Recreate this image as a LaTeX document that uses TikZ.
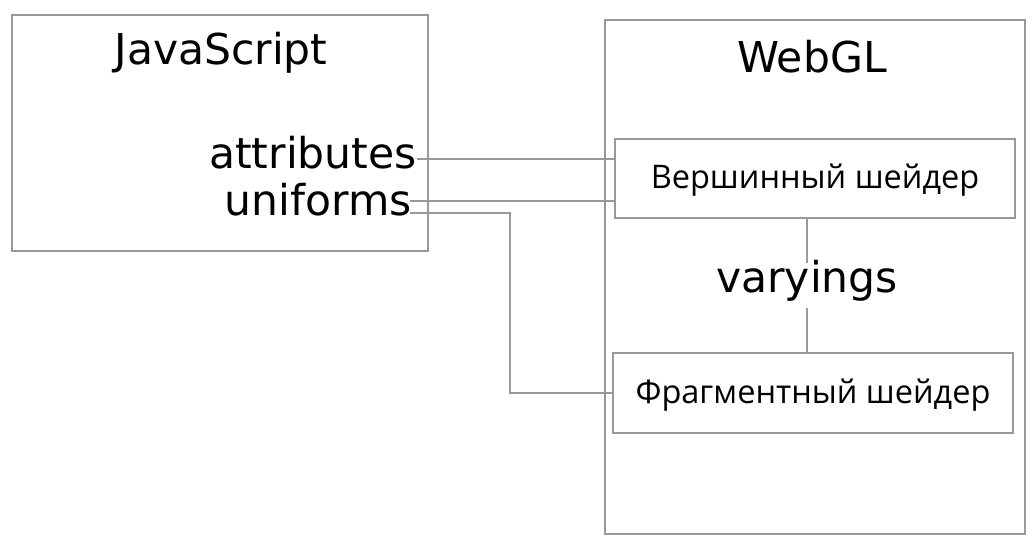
\documentclass[tikz,border=0pt]{standalone}
\usepackage{fontspec}
\setmainfont{DejaVu Sans}
\newfontfamily\rufont{Open Sans}
\tikzset{
  frame/.style={draw=black!40, line width=2pt, anchor=north west, inner sep=0pt},
  lat/.style={inner sep=0pt, font=\fontsize{42.5}{50}\selectfont},
  rutext/.style={font=\rufont\fontsize{32.5}{39}\selectfont},
  conn/.style={draw=black!40, line width=2pt},
}
\begin{document}
\begin{tikzpicture}[x=1pt,y=-1pt]
\useasboundingbox (0,0) rectangle (1035,543);
% outer boxes
\node[frame, minimum width=416pt, minimum height=236pt] (js) at (11,14) {};
\node[frame, minimum width=420pt, minimum height=514pt] (gl) at (604,19) {};
% titles
\node[lat, anchor=base] (jst) at (221,64) {JavaScript};
\node[lat, anchor=base] (glt) at (812,72) {WebGL};
\node[lat, anchor=base east] (attr) at (417,168) {attributes};
\node[lat, anchor=base east] (unif) at (412,215) {uniforms};
% shader boxes
\node[frame, rutext, anchor=center, minimum width=400pt, minimum height=79pt,
      text height=28pt, text depth=9pt] (vs) at (815,178.5) {Вершинный шейдер};
\node[frame, rutext, anchor=center, minimum width=400pt, minimum height=80pt,
      text height=28pt, text depth=8pt] (fs) at (813,393) {Фрагментный шейдер};
% varyings
\node[lat, text height=29pt, text depth=16pt] (var) at (807,285.5) {varyings};
% connectors
\coordinate (a1) at (417,159);
\coordinate (u1) at (410,201);
\coordinate (u2) at (410,213);
\coordinate (bend) at (510,213);
\draw[conn] (a1) -- (a1 -| vs.west);
\draw[conn] (u1) -- (u1 -| vs.west);
\draw[conn] (u2) -- (bend) |- (fs.west);
\draw[conn] (var.north |- vs.south) -- (var.north);
\draw[conn] (var.south) -- (var.south |- fs.north);
\end{tikzpicture}
\end{document}
